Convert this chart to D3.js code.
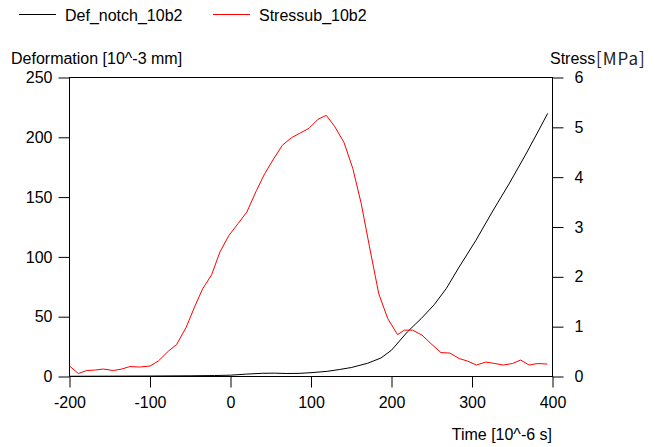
<!DOCTYPE html>
<html><head><meta charset="utf-8">
<script src="https://cdn.jsdelivr.net/npm/d3@7"></script>
<style>
body{margin:0;background:#fff;}
text{font-family:"Liberation Sans",Arial,sans-serif;}
</style></head>
<body><svg id="c" width="655" height="447"></svg>
<script>
const xTicks = [-200,-100,0,100,200,300,400];
const leftTicks = [0,50,100,150,200,250];
const rightTicks = [0,1,2,3,4,5,6];

const defTime = [-200,-150,-100,-50,-20,0,20,40,55,70,85,100,120,135,150,170,187,200,220,237,253,268,284,305,325,346,367,383,394];
const defVals = [0.2,0.3,0.4,0.6,0.8,1.1,2,2.7,2.8,2.5,2.6,3.2,4.3,5.8,7.5,11,15.5,22,37.5,48.5,60,73.5,91.5,114,137.5,161,186,206,220];

const stressTime = [-200,-189,-178.5,-168,-158,-145.5,-135,-125,-113,-100,-89.7,-77,-67,-55,-44,-34.6,-23.5,-13.1,-2,9.5,20.3,32.2,42.5,53.7,64.4,75.6,85.9,97.5,108.6,119,129.3,140.9,152,162.4,172.7,184.2,195.4,207.5,216,226.3,237.9,249,261.4,272.6,284.1,294.4,305.6,317.2,328.7,338.6,350.2,360.5,370.8,381.1,393.5];
const stressVals = [0.21,0.06,0.12,0.13,0.15,0.12,0.15,0.20,0.19,0.21,0.31,0.51,0.64,0.99,1.42,1.76,2.04,2.5,2.83,3.07,3.3,3.73,4.07,4.37,4.64,4.79,4.88,4.98,5.16,5.24,5.02,4.70,4.17,3.47,2.6,1.66,1.16,0.84,0.93,0.93,0.83,0.66,0.48,0.47,0.36,0.31,0.23,0.29,0.26,0.23,0.26,0.33,0.23,0.26,0.25];

const svg = d3.select("#c");
const L = 69.5, R = 552.5, T = 77.5, B = 376.5;
const x = d3.scaleLinear().domain([-200,400]).range([L,R]);
const yL = d3.scaleLinear().domain([0,250]).range([B,T]);
const yR = d3.scaleLinear().domain([0,6]).range([B,T]);
const FS = "16px";

// frame
svg.append("rect").attr("x",L).attr("y",T).attr("width",R-L).attr("height",B-T)
  .attr("fill","none").attr("stroke","#000").attr("stroke-width",1);

// axes
const ax = svg.append("g").attr("transform",`translate(0,${B})`)
  .call(d3.axisBottom(x).tickValues(xTicks).tickSize(11).tickPadding(9).tickFormat(d3.format("d")));
const al = svg.append("g").attr("transform",`translate(${L},0)`)
  .call(d3.axisLeft(yL).tickValues(leftTicks).tickSize(11).tickPadding(6).tickFormat(d3.format("d")));
const ar = svg.append("g").attr("transform",`translate(${R},0)`)
  .call(d3.axisRight(yR).tickValues(rightTicks).tickSize(11).tickPadding(11).tickFormat(d3.format("d")));
[ax,al,ar].forEach(g=>{
  g.select(".domain").remove();
  g.selectAll("text").attr("font-size",FS).attr("fill","#000").style("font-family",'"Liberation Sans",Arial,sans-serif');
  g.selectAll("line").attr("stroke","#000");
});
ax.selectAll("text").text(d=>d<0?"-"+Math.abs(d):d);

// lines
const defData = defTime.map((t,i)=>[t,defVals[i]]);
const stData = stressTime.map((t,i)=>[t,stressVals[i]]);
svg.append("path").datum(defData).attr("fill","none").attr("stroke","#000").attr("stroke-width",1)
  .attr("d",d3.line().x(d=>x(d[0])).y(d=>yL(d[1])));
svg.append("path").datum(stData).attr("fill","none").attr("stroke","#ff0000").attr("stroke-width",1)
  .attr("d",d3.line().x(d=>x(d[0])).y(d=>yR(d[1])));

// titles
svg.append("text").attr("x",11).attr("y",64).attr("font-size",FS).text("Deformation [10^-3 mm]");
svg.append("text").attr("x",550).attr("y",64).attr("font-size",FS).text("Stress");
svg.append("text").attr("x",596).attr("y",65).attr("font-size","17px").attr("letter-spacing","1px")
  .attr("fill","#222").style("font-family",'"Noto Sans CJK JP","Noto Sans",sans-serif').text("[MPa]");
svg.append("text").attr("x",552).attr("y",440).attr("text-anchor","end").attr("font-size",FS).text("Time [10^-6 s]");

// legend
const leg = [{n:"Def_notch_10b2",c:"#000",x:19},{n:"Stressub_10b2",c:"#ff0000",x:213}];
leg.forEach(l=>{
  svg.append("line").attr("x1",l.x).attr("x2",l.x+37).attr("y1",14.5).attr("y2",14.5).attr("stroke",l.c).attr("stroke-width",1);
  svg.append("text").attr("x",l.x+46).attr("y",21).attr("font-size",FS).text(l.n);
});
</script></body></html>
